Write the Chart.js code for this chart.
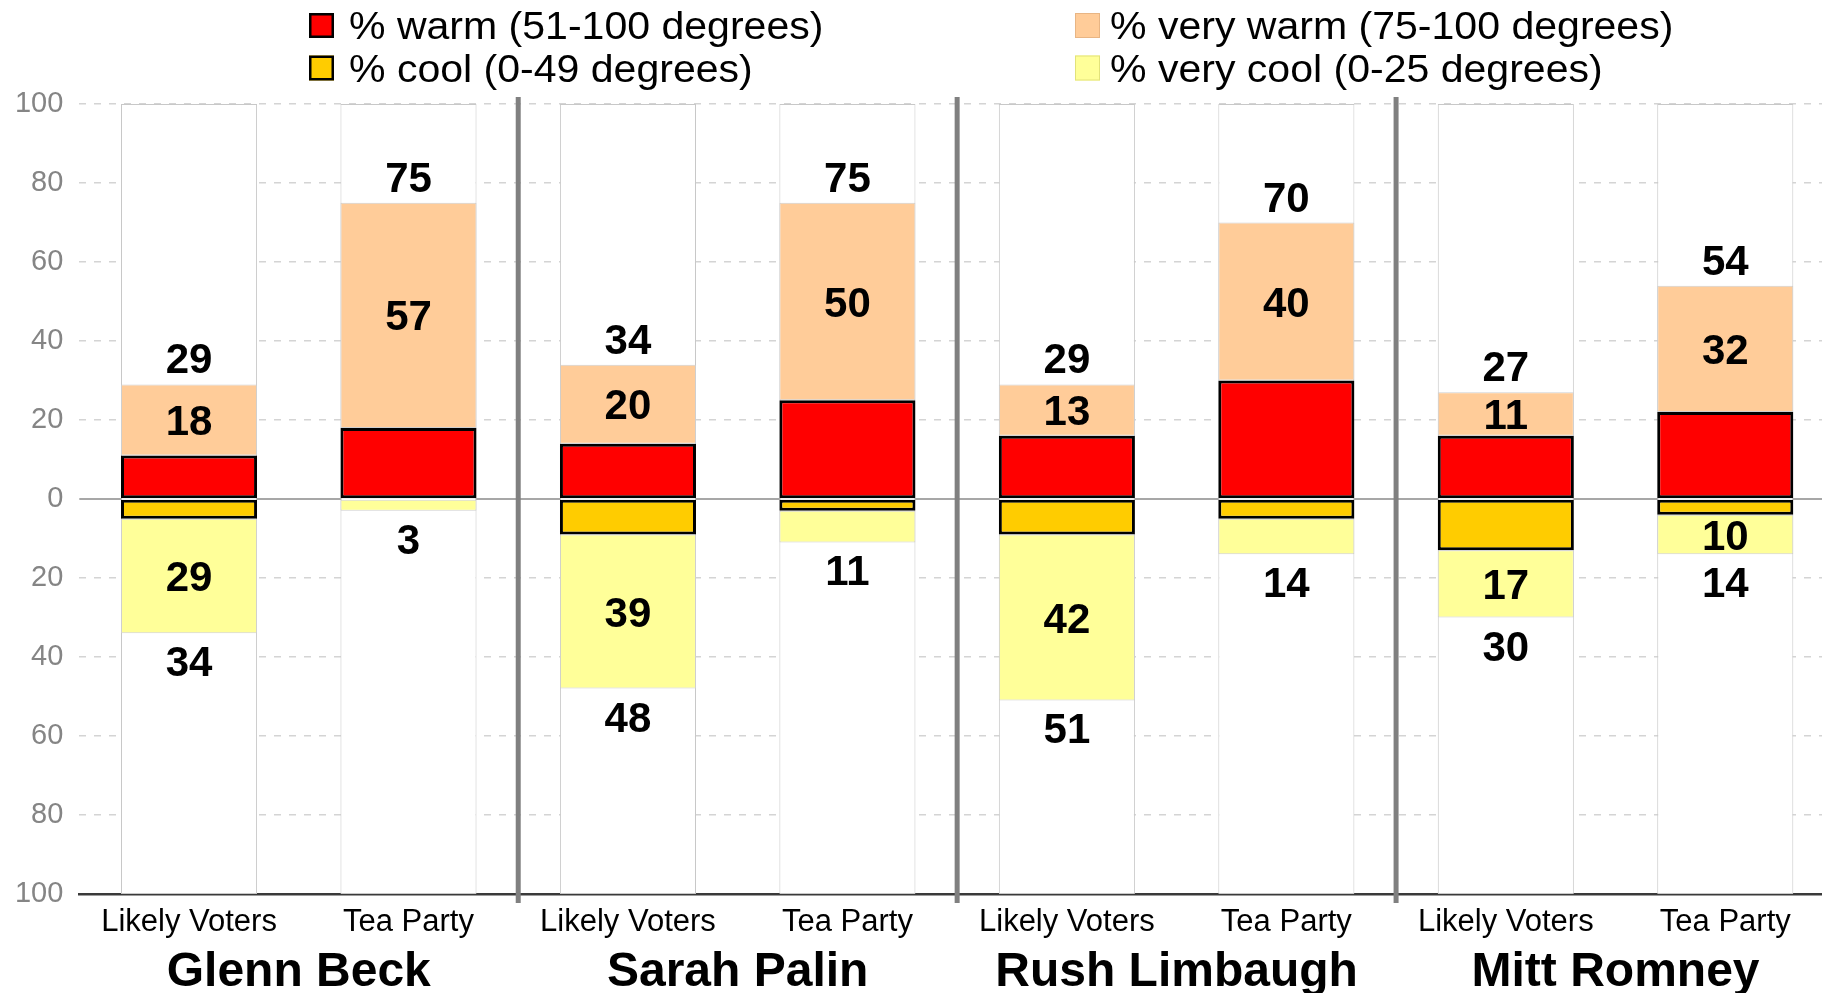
<!DOCTYPE html>
<html><head><meta charset="utf-8">
<script src="https://cdn.jsdelivr.net/npm/chart.js@4/dist/chart.umd.min.js"></script>
<style>
html,body{margin:0;padding:0;background:#fff;overflow:hidden;width:1822px;height:993px}
#wrap{position:relative;width:1835px;height:993px}
canvas{display:block}
</style></head><body>
<div id="wrap"><canvas id="c" width="1835" height="993"></canvas></div>
<script>
// ---- data ----
const categories = ['Likely Voters','Tea Party','Likely Voters','Tea Party','Likely Voters','Tea Party','Likely Voters','Tea Party'];
const groups = ['Glenn Beck','Sarah Palin','Rush Limbaugh','Mitt Romney'];
const warmTotal = [29, 75, 34, 75, 29, 70, 27, 54];   // % warm (51-100), label above
const veryWarm  = [18, 57, 20, 50, 13, 40, 11, 32];   // % very warm (75-100)
const coolTotal = [34, 3, 48, 11, 51, 14, 30, 14];    // % cool (0-49), label below
const veryCool  = [29, 3, 39, 8, 42, 9, 17, 10];      // % very cool (0-25)
const legendLabels = ['% warm (51-100 degrees)','% very warm (75-100 degrees)','% cool (0-49 degrees)','% very cool (0-25 degrees)'];
const yMin = -100, yMax = 100, yStep = 20;

// derived stacked segments
const warmPart = warmTotal.map((v,i)=>v-veryWarm[i]);
const coolPart = coolTotal.map((v,i)=>{const d=v-veryCool[i]; return d===0?null:-d;});
const veryCoolNeg = veryCool.map(v=>-v);
const background = categories.map(()=>[yMin,yMax]);

const FONT = '"Liberation Sans", Arial, Helvetica, sans-serif';
Chart.defaults.font.family = FONT;

const COLORS = {warm:'#FF0000', vwarm:'#FFCC99', cool:'#FFCC00', vcool:'#FFFF99'};

function capText(ctx, txt, x, yCenter, size) {
  ctx.fillText(txt, x, yCenter + 0.358*size);
}

const decor = {
  id:'decor',
  beforeDatasetsDraw(chart){
    const {ctx, chartArea, scales:{y}} = chart;
    const y0 = y.getPixelForValue(0);
    ctx.save();
    ctx.strokeStyle='#8a8a8a'; ctx.lineWidth=1.5;
    ctx.beginPath(); ctx.moveTo(chartArea.left,y0); ctx.lineTo(chartArea.right,y0); ctx.stroke();
    ctx.restore();
  },
  afterDatasetsDraw(chart){
    const {ctx, chartArea, scales:{x,y}} = chart;
    const LS = 42;
    ctx.save();
    ctx.fillStyle='#000';
    ctx.font = 'bold '+LS+'px '+FONT;
    ctx.textAlign='center';
    ctx.textBaseline='alphabetic';
    const mPeach = chart.getDatasetMeta(2);
    const mYellow = chart.getDatasetMeta(4);
    categories.forEach((c,i)=>{
      const p = mPeach.data[i], yl = mYellow.data[i];
      const cx = p.x;
      ctx.fillText(String(warmTotal[i]), cx, p.y - 11);
      capText(ctx, String(veryWarm[i]), cx, (p.y+p.base)/2, LS);
      if (veryCool[i] >= 10) capText(ctx, String(veryCool[i]), cx, (yl.y+yl.base)/2, LS);
      ctx.fillText(String(coolTotal[i]), cx, yl.y + 43);
    });
    // separators
    ctx.strokeStyle='#808080'; ctx.lineWidth=5;
    for (let k=1;k<groups.length;k++){
      const sx = (x.getPixelForValue(2*k-1)+x.getPixelForValue(2*k))/2;
      ctx.beginPath(); ctx.moveTo(sx, chartArea.top-7); ctx.lineTo(sx, chartArea.bottom+9); ctx.stroke();
    }
    ctx.restore();
  },
  afterDraw(chart){
    const {ctx, scales:{x}} = chart;
    ctx.save();
    // group labels
    ctx.fillStyle='#000';
    ctx.font='bold 48px '+FONT;
    ctx.textAlign='center'; ctx.textBaseline='alphabetic';
    groups.forEach((g,k)=>{
      const gx = (x.getPixelForValue(2*k)+x.getPixelForValue(2*k+1))/2;
      ctx.fillText(g, gx, 986);
    });
    // legend (2 columns x 2 rows)
    const items = [
      {ds:1, bx:309, tx:349, by:13, base:39.3},
      {ds:2, bx:1075, tx:1110, by:13, base:39.3},
      {ds:3, bx:309, tx:349, by:55.5, base:81.7},
      {ds:4, bx:1075, tx:1110, by:55.5, base:81.7}
    ];
    const LF = 38, BOX = 25;
    items.forEach(it=>{
      const d = chart.data.datasets[it.ds];
      const bw = d.legendBorderWidth;
      ctx.fillStyle = d.backgroundColor;
      ctx.fillRect(it.bx, it.by, BOX, BOX);
      ctx.strokeStyle = d.legendBorder; ctx.lineWidth = bw;
      ctx.strokeRect(it.bx+bw/2, it.by+bw/2, BOX-bw, BOX-bw);
      ctx.save();
      ctx.translate(it.tx, it.base);
      ctx.scale(1.08, 1);
      ctx.fillStyle='#000'; ctx.textAlign='left';
      ctx.font = LF+'px '+FONT;
      ctx.fillText(d.label, 0, 0);
      ctx.restore();
    });
    ctx.restore();
  }
};

new Chart(document.getElementById('c'), {
  type:'bar',
  data:{
    labels: categories,
    datasets:[
      {label:'bg', data: background, backgroundColor:'#ffffff', borderColor:'#c8c8c8', borderWidth:1, borderSkipped:false, grouped:false, stack:'bg', order:10},
      {label: legendLabels[0], data: warmPart, backgroundColor: COLORS.warm, borderColor:'#000', borderWidth:3, borderSkipped:false, stack:'main', order:0, legendBorder:'#000', legendBorderWidth:2.5},
      {label: legendLabels[1], data: veryWarm, backgroundColor: COLORS.vwarm, borderColor:'#cfcfcf', borderWidth:1, borderSkipped:false, stack:'main', order:1, legendBorder:'#e8b584', legendBorderWidth:1},
      {label: legendLabels[2], data: coolPart, backgroundColor: COLORS.cool, borderColor:'#000', borderWidth:3, borderSkipped:false, stack:'main', order:0, legendBorder:'#000', legendBorderWidth:2.5},
      {label: legendLabels[3], data: veryCoolNeg, backgroundColor: COLORS.vcool, borderColor:'#cfcfcf', borderWidth:1, borderSkipped:false, stack:'main', order:1, legendBorder:'#e2e27a', legendBorderWidth:1}
    ]
  },
  options:{
    responsive:false, animation:false, devicePixelRatio:1,
    barPercentage:0.62, categoryPercentage:1,
    layout:{padding:{top:104,left:0,right:0,bottom:0}},
    plugins:{legend:{display:false}, tooltip:{enabled:false}},
    scales:{
      x:{stacked:true, offset:true,
         grid:{display:false, drawTicks:false},
         border:{display:true, color:'#3a3a3a', width:2.5},
         ticks:{color:'#000', font:{size:31}, padding:10, maxRotation:0, autoSkip:false},
         afterFit(s){ s.height = 99; }},
      y:{stacked:true, min:yMin, max:yMax,
         grid:{drawTicks:false, lineWidth:1.5,
               color:(c)=> (c.tick && (c.tick.value===0 || c.tick.value===yMin)) ? 'rgba(0,0,0,0)' : '#d4d4d4'},
         border:{display:false, dash:[7,8]},
         ticks:{stepSize:yStep, color:'#858585', font:{size:29}, padding:16, callback:(v)=>Math.abs(v)},
         afterFit(s){ s.width = 79.3; }}
    }
  },
  plugins:[decor]
});
</script>
</body></html>
